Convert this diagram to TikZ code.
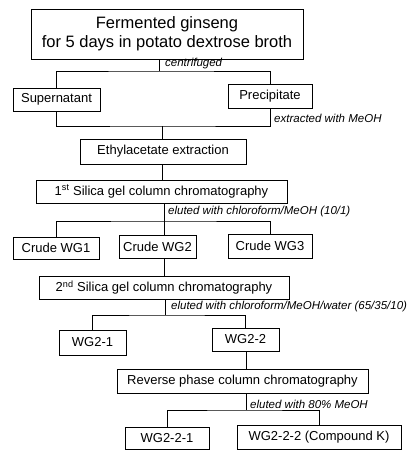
\documentclass[tikz,border=0pt]{standalone}
\usepackage{fontspec}
\setmainfont{Liberation Sans}

\begin{document}
\begin{tikzpicture}[
  x=1pt, y=-1pt,
  box/.style={draw, line width=0.8pt, minimum width=#1, minimum height=23pt,
              inner sep=0pt, text centered, font=\fontsize{13}{15}\selectfont},
  lbl/.style={anchor=west, inner sep=0pt, font=\fontsize{11.5}{13}\selectfont\itshape},
  lnk/.style={line width=0.7pt}
]
  \useasboundingbox (0,0) rectangle (414,450);

  %-- Fermentation
  \node[box=272pt, minimum height=50pt, align=center,
        font=\fontsize{16.5}{19}\selectfont] (ferm) at (167,34)
        {Fermented ginseng\\for 5 days in potato dextrose broth};
  \node[box=87pt]  (sup)   at (56.5, 99.5) {Supernatant};
  \node[box=84pt, minimum height=24pt] (prec) at (270, 96) {Precipitate};
  \node[box=166pt, minimum height=25pt] (ethyl) at (163, 151.5) {Ethylacetate extraction};

  %-- 1st column
  \node[box=251pt] (sil1) at (161.5, 191.5) {1\textsuperscript{st} Silica gel column chromatography};
  \node[box=86pt, minimum height=22pt] (wg1) at (56, 248) {Crude WG1};
  \node[box=77pt]  (wg2)   at (157.5, 246.5) {Crude WG2};
  \node[box=84pt, minimum height=24pt] (wg3) at (270, 246) {Crude WG3};

  %-- 2nd column
  \node[box=250pt] (sil2) at (164, 287.5) {2\textsuperscript{nd} Silica gel column chromatography};
  \node[box=67pt, minimum height=25pt] (wg21) at (92.5, 342.5) {WG2-1};
  \node[box=67pt]  (wg22)  at (245.5, 339.5) {WG2-2};

  %-- Reverse phase
  \node[box=251pt, minimum height=24pt] (rev) at (242.5, 381) {Reverse phase column chromatography};
  \node[box=84pt, minimum height=22pt] (wg221) at (167, 438) {WG2-2-1};
  \node[box=164pt, minimum height=24pt] (wg222) at (319, 437) {WG2-2-2 (Compound K)};

  %-- Junctions
  \coordinate (j1) at (159, 71);
  \coordinate (j2) at (162, 126);
  \coordinate (j3) at (164, 221);
  \coordinate (j4) at (165, 315);
  \coordinate (j5) at (246, 410);

  %-- Lines
  \draw[lnk] (ferm.south -| j1) -- (j1);
  \draw[lnk] (sup.north) |- (j1) -| (prec.north);
  \draw[lnk] (sup.south) |- (j2) -| (prec.south);
  \draw[lnk] (j2) -- (ethyl.north -| j2);
  \draw[lnk] (ethyl.south -| j2) -- (sil1.north -| j2);
  \draw[lnk] (sil1.south -| j3) -- (j3);
  \draw[lnk] (wg1.north) |- (j3) -| (wg3.north);
  \draw[lnk] (j3) -- (wg2.north -| j3);
  \draw[lnk] (wg2.south -| j3) -- (sil2.north -| j3);
  \draw[lnk] (sil2.south -| j4) -- (j4);
  \draw[lnk] (wg21.north) |- (j4) -| (wg22.north);
  \draw[lnk] (wg22.south -| j5) -- (rev.north -| j5);
  \draw[lnk] (rev.south -| j5) -- (j5);
  \draw[lnk] (wg221.north) |- (j5) -| (wg222.north);

  %-- Labels
  \node[lbl] (lcen) at (165, 64)  {centrifuged};
  \node[lbl] (lext) at (274, 118) {extracted with MeOH};
  \node[lbl] (lel1) at (168, 212) {eluted with chloroform/MeOH (10/1)};
  \node[lbl] (lel2) at (171, 307) {eluted with chloroform/MeOH/water (65/35/10)};
  \node[lbl] (lel3) at (250, 404) {eluted with 80\% MeOH};
\end{tikzpicture}
\end{document}
